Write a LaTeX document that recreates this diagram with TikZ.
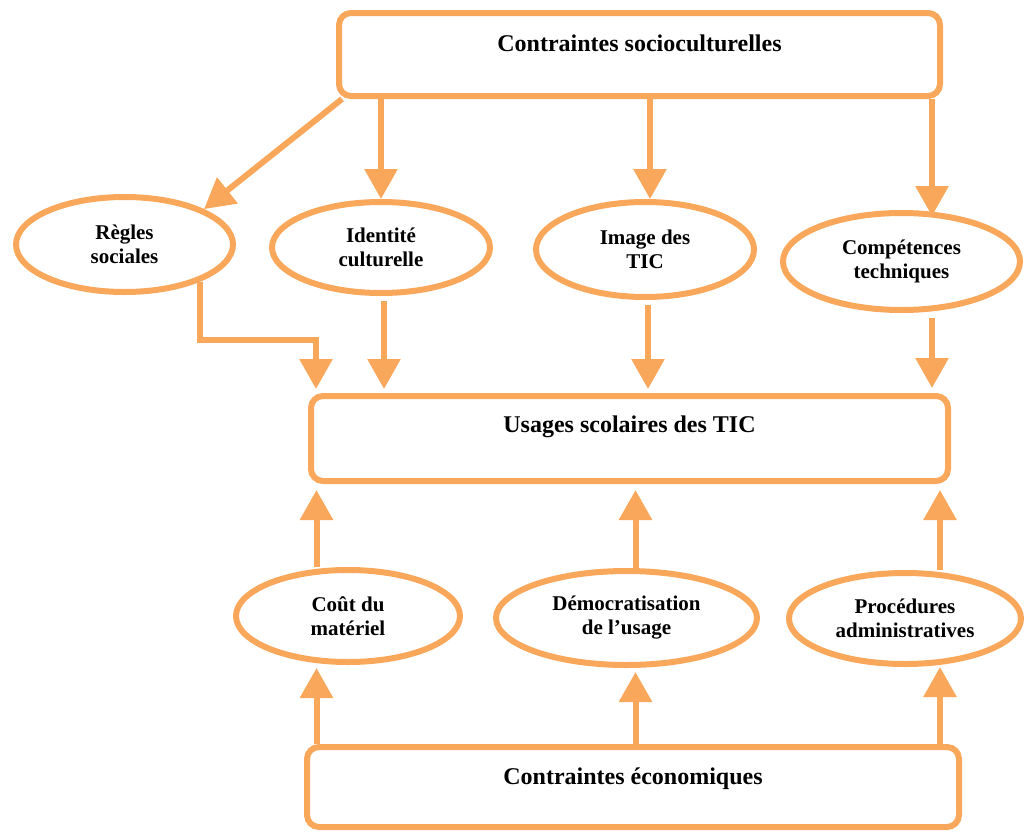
\documentclass[tikz,border=0pt]{standalone}
\usepackage{fontspec}
\setmainfont{Liberation Serif}
\usetikzlibrary{arrows.meta,shapes.geometric}
\definecolor{orng}{HTML}{F9A75A}
\begin{document}
\begin{tikzpicture}[x=1pt,y=-1pt,
  box/.style={draw=orng,line width=6pt,rounded corners=12pt,rectangle,
    inner xsep=0pt,inner ysep=0pt,anchor=base,
    font=\fontsize{24}{28}\selectfont\bfseries},
  ell/.style={draw=orng,line width=6pt,ellipse,inner sep=0pt,align=center,
    font=\fontsize{21}{24}\selectfont\bfseries},
  arr/.style={draw=orng,line width=6pt,-{Triangle[width=32pt,length=30pt]}}]
\useasboundingbox (0,0) rectangle (1026,833);

% boxes
\node[box,minimum width=601pt,text height=38pt,text depth=45pt] (top) at (639.5,51) {Contraintes socioculturelles};
\node[box,minimum width=637pt,text height=36pt,text depth=49pt] (usages) at (629.5,432) {Usages scolaires des TIC};
\node[box,minimum width=652pt,text height=37pt,text depth=43pt] (eco) at (633,784) {Contraintes économiques};

% ellipses
\node[ell,minimum width=217pt,minimum height=95pt] (regles) at (124.5,244.5) {Règles\\sociales};
\node[ell,minimum width=218pt,minimum height=91pt] (ident) at (381,247.5) {Identité\\culturelle};
\node[ell,minimum width=218pt,minimum height=95pt] (image) at (645,249.5) {Image des\\TIC};
\node[ell,minimum width=237pt,minimum height=97pt] (comp) at (901.5,261.5) {Compétences\\techniques};
\node[ell,minimum width=224pt,minimum height=92pt] (cout) at (348,616) {Coût du\\matériel};
\node[ell,minimum width=261pt,minimum height=94pt] (demo) at (626.5,618) {Démocratisation\\de l’usage};
\node[ell,minimum width=232pt,minimum height=91pt] (proc) at (905,618.5) {Procédures\\administratives};

% column positions
\coordinate (xIm) at (650,0);
\coordinate (xC) at (932,0);
\coordinate (xI2) at (384,0);
\coordinate (xIm2) at (648,0);
\coordinate (cR) at (316,340);
\coordinate (xB1) at (316.5,0);
\coordinate (xB2) at (635.5,0);
\coordinate (xB3) at (940,0);

% top connectors
\draw[arr] ([xshift=6pt]top.south west) -- (regles.24.4);
\draw[arr] (ident.north |- top.south) -- (ident.north);
\draw[arr] (xIm |- top.south) -- (xIm |- image.north);
\draw[arr,shorten >=-6pt] (xC |- top.south) -- (xC |- comp.north);

% to usages from above
\draw[arr,shorten >=4pt] (regles.-26) |- (cR) -- (cR |- usages.north);
\draw[arr,shorten <=5pt,shorten >=4pt] (xI2 |- ident.south) -- (xI2 |- usages.north);
\draw[arr,shorten <=5pt,shorten >=4pt] (xIm2 |- image.south) -- (xIm2 |- usages.north);
\draw[arr,shorten <=5pt,shorten >=5pt] (xC |- comp.south) -- (xC |- usages.north);

% to usages from below
\draw[arr,shorten >=6pt] (xB1 |- cout.north) -- (xB1 |- usages.south);
\draw[arr,shorten >=6pt] (xB2 |- demo.north) -- (xB2 |- usages.south);
\draw[arr,shorten >=6pt] (xB3 |- proc.north) -- (xB3 |- usages.south);

% from economic constraints
\draw[arr,shorten >=3pt] (xB1 |- eco.north) -- (xB1 |- cout.south);
\draw[arr,shorten >=4pt] (xB2 |- eco.north) -- (xB2 |- demo.south);
\draw[arr] (xB3 |- eco.north) -- (xB3 |- proc.south);
\end{tikzpicture}
\end{document}
